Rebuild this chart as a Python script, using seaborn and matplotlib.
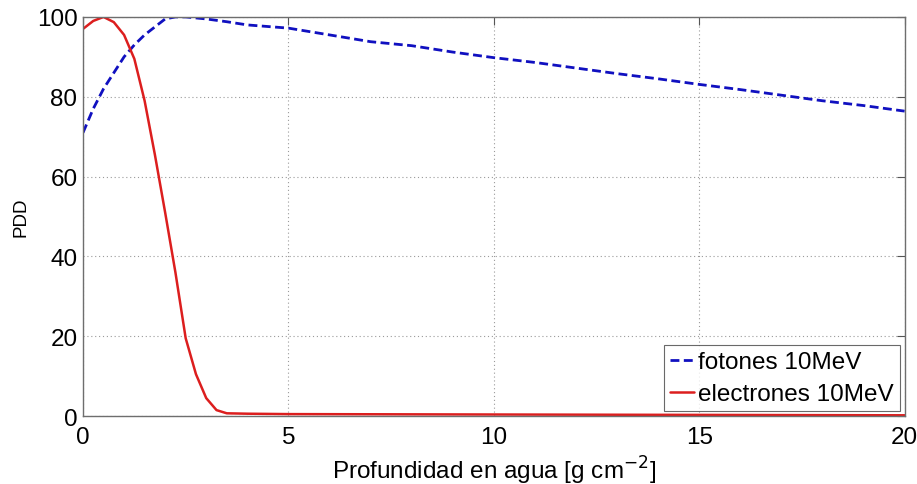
import numpy as np
import pandas as pd
import matplotlib
matplotlib.use("Agg")
import matplotlib.pyplot as plt
import seaborn as sns

# Data
x_foton = [0, 0.25, 0.5, 0.75, 1.0, 1.25, 1.5, 1.75, 2.0, 2.25, 2.5, 3.0, 3.5, 4.0,
           4.5, 5.0, 6, 7, 8, 9, 10, 11, 12, 13, 14, 15, 16, 17, 18, 19, 20]
y_foton = [71, 77, 82, 86, 90, 93, 95.5, 97.5, 99.5, 100, 100, 99.5, 98.8, 98,
           97.6, 97.2, 95.5, 93.8, 92.8, 91.2, 89.8, 88.6, 87.2, 85.8, 84.5, 83.1,
           81.8, 80.4, 79, 77.8, 76.4]

x_elec = [0, 0.25, 0.5, 0.75, 1.0, 1.25, 1.5, 1.75, 2.0, 2.25, 2.5, 2.75, 3.0,
          3.25, 3.5, 4, 5, 10, 15, 20]
y_elec = [97, 99, 100, 98.7, 95.5, 89.5, 79, 65.5, 51, 36, 19.5, 10.5, 4.5,
          1.5, 0.7, 0.6, 0.5, 0.4, 0.3, 0.2]

labels = ["fotones 10MeV", "electrones 10MeV"]
xticks = [0, 5, 10, 15, 20]
yticks = [0, 20, 40, 60, 80, 100]

sns.set_theme(style="white")
plt.rcParams['font.family'] = ['Liberation Sans', 'DejaVu Sans']
plt.rcParams['text.color'] = 'black'
plt.rcParams['axes.labelcolor'] = 'black'
plt.rcParams['xtick.color'] = 'black'
plt.rcParams['ytick.color'] = 'black'

fig = plt.figure(figsize=(9.17, 4.85), dpi=100)
ax = fig.add_axes([0.0905, 0.140, 0.896, 0.823])

df_f = pd.DataFrame({"x": x_foton, "y": y_foton})
df_e = pd.DataFrame({"x": x_elec, "y": y_elec})

sns.lineplot(data=df_f, x="x", y="y", ax=ax, color="#1010c0", linewidth=2.0,
             linestyle=(0, (3.2, 1.6)), label=labels[0])
sns.lineplot(data=df_e, x="x", y="y", ax=ax, color="#dc1e1e", linewidth=1.8,
             label=labels[1])

ax.set_xlim(0, 20)
ax.set_ylim(0, 100)
ax.set_xticks(xticks)
ax.set_yticks(yticks)
ax.grid(True, color="#9a9a9a", linestyle=(0, (1, 2.5)), linewidth=0.8)
for s in ax.spines.values():
    s.set_color("#6e6e6e")
    s.set_linewidth(1.0)
ax.tick_params(direction="in", length=6, width=0.8, color="#555555",
               labelcolor="black", top=True, right=True, labelsize=17.5, pad=4)
ax.tick_params(axis="x", pad=7)
ax.set_xlabel("Profundidad en agua [g cm$^{-2}$]", fontsize=17.5, labelpad=4)
ax.set_ylabel("PDD", fontsize=13.5, labelpad=5)

leg = ax.legend(loc="lower right", fontsize=17.5, frameon=True, fancybox=False,
                handlelength=1.0, handletextpad=0.15, borderpad=0.25,
                labelspacing=0.4, borderaxespad=0.2)
leg.get_frame().set_edgecolor("#444444")
leg.get_frame().set_linewidth(0.8)

fig.savefig("out.png", dpi=100)
